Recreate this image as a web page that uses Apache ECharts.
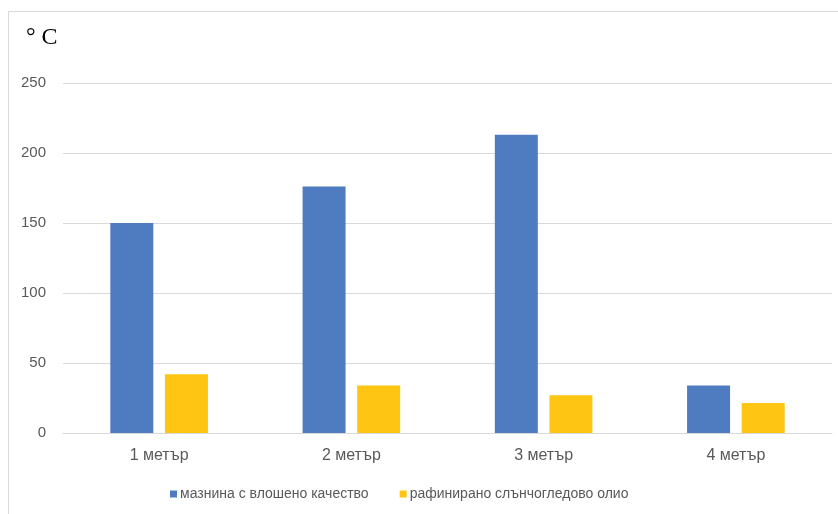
<!DOCTYPE html>
<html>
<head>
<meta charset="utf-8">
<script src="https://cdn.jsdelivr.net/npm/echarts@6/dist/echarts.min.js"></script>
<style>html,body{margin:0;padding:0;background:#fff}#c{width:838px;height:514px}</style>
</head>
<body>
<div id="c"></div>
<script>
const categories = ['1 метър', '2 метър', '3 метър', '4 метър'];
const seriesNames = ['мазнина с влошено качество', 'рафинирано слънчогледово олио'];
const badFat = [150, 176, 213, 34];
const sunflowerOil = [42, 34, 27, 21.5];
const unitLabel = '° C';

const chart = echarts.init(document.getElementById('c'), null, {renderer: 'canvas'});
const txt = '#595959';
const grid = '#d9d9d9';
chart.setOption({
  animation: false,
  backgroundColor: '#fff',
  graphic: [{
    type: 'rect', shape: {x: 8.5, y: 11.5, width: 900, height: 600},
    style: {fill: 'none', stroke: grid, lineWidth: 1}, silent: true
  }],
  title: {
    text: unitLabel, left: 21, top: 21,
    textStyle: {fontFamily: 'Liberation Serif', fontWeight: 'normal', fontSize: 24, color: '#000'}
  },
  legend: {
    top: 482, left: 165, itemWidth: 7, itemHeight: 7, itemGap: 31,
    icon: 'rect',
    textStyle: {fontFamily: 'Liberation Sans', fontSize: 14, color: txt, padding: [0, 0, 0, -2]},
    data: seriesNames
  },
  grid: {left: 63, right: 6, top: 83, bottom: 81, containLabel: false},
  xAxis: {
    type: 'category', data: categories,
    axisLine: {lineStyle: {color: grid}}, axisTick: {show: false},
    axisLabel: {color: txt, fontFamily: 'Liberation Sans', fontSize: 16, margin: 15}
  },
  yAxis: {
    type: 'value', min: 0, max: 250, interval: 50,
    axisLine: {show: false}, axisTick: {show: false},
    splitLine: {lineStyle: {color: grid}},
    axisLabel: {color: txt, fontFamily: 'Liberation Sans', fontSize: 15, margin: 17}
  },
  series: [
    {name: seriesNames[0], type: 'bar', data: badFat, barWidth: 43, barGap: '27%', itemStyle: {color: '#4F7CC0'}},
    {name: seriesNames[1], type: 'bar', data: sunflowerOil, barWidth: 43, itemStyle: {color: '#FFC513'}}
  ]
});
</script>
</body>
</html>
